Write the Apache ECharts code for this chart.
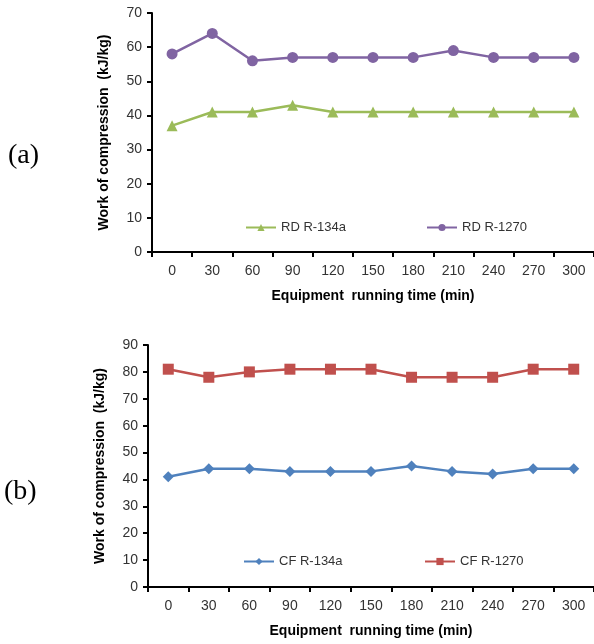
<!DOCTYPE html>
<html><head><meta charset="utf-8">
<script src="https://cdn.jsdelivr.net/npm/echarts@6/dist/echarts.min.js"></script>
<style>html,body{margin:0;padding:0;background:#fff}#c{width:594px;height:644px}</style>
</head><body><div id="c"></div>
<script>
var categories = ['0','30','60','90','120','150','180','210','240','270','300'];
var rdR134a = [37,41,41,43,41,41,41,41,41,41,41];
var rdR1270 = [58,64,56,57,57,57,57,59,57,57,57];
var cfR134a = [41,44,44,43,43,43,45,43,42,44,44];
var cfR1270 = [81,78,80,81,81,81,78,78,78,81,81];
var topTicks = [0,10,20,30,40,50,60,70];
var bottomTicks = [0,10,20,30,40,50,60,70,80,90];

var font = 'Liberation Sans, Arial, sans-serif';
function xAx(gi){
  return {type:'category', gridIndex:gi, data:categories, boundaryGap:true,
    name:'Equipment  running time (min)', nameLocation:'middle', nameGap:37,
    nameTextStyle:{fontFamily:font, fontWeight:'bold', fontSize:14, color:'#000'},
    axisLine:{lineStyle:{color:'#000', width:2}},
    axisTick:{show:true, alignWithLabel:false, length:5, lineStyle:{color:'#000', width:2}},
    axisLabel:{fontFamily:font, fontSize:14, color:'#333', margin:12}};
}
function yAx(gi, max, gap){
  return {type:'value', gridIndex:gi, min:0, max:max, interval:10,
    name:'Work of compression  (kJ/kg)', nameLocation:'middle', nameGap:gap,
    nameTextStyle:{fontFamily:font, fontWeight:'bold', fontSize:14, color:'#000'},
    splitLine:{show:false},
    axisLine:{show:true, lineStyle:{color:'#000', width:2}},
    axisTick:{show:true, length:5, lineStyle:{color:'#000', width:2}},
    axisLabel:{fontFamily:font, fontSize:14, color:'#333', margin:10}};
}
function ser(name, data, color, symbol, size, xi){
  return {name:name, type:'line', data:data, xAxisIndex:xi, yAxisIndex:xi,
    symbol:symbol, symbolSize:size, showSymbol:true,
    lineStyle:{color:color, width:2.5}, itemStyle:{color:color}};
}
function leg(name, left, top){
  return {data:[name], left:left, top:top, itemWidth:30, itemHeight:9, itemGap:4, padding:0,
     textStyle:{fontFamily:font, fontSize:13, color:'#333'}};
}
var chart = echarts.init(document.getElementById('c'));
chart.setOption({
  animation:false,
  grid:[{left:152, top:13, width:442, height:239},
        {left:148, top:345, width:446, height:242}],
  xAxis:[xAx(0), xAx(1)],
  yAxis:[yAx(0,70,41), yAx(1,90,41)],
  legend:[
    leg('RD R-134a', 245, 221),
    leg('RD R-1270', 426, 221),
    leg('CF R-134a', 243, 555),
    leg('CF R-1270', 424, 555)
  ],
  series:[
    ser('RD R-134a', rdR134a, '#9BBB59', 'triangle', 11, 0),
    ser('RD R-1270', rdR1270, '#8064A2', 'circle', 11, 0),
    ser('CF R-134a', cfR134a, '#4F81BD', 'diamond', 11, 1),
    ser('CF R-1270', cfR1270, '#C0504D', 'rect', 11, 1)
  ],
  graphic:[
    {type:'text', left:8, top:142, style:{text:'(a)', font:'28px "Liberation Serif", serif', fill:'#000'}},
    {type:'text', left:4, top:478, style:{text:'(b)', font:'28px "Liberation Serif", serif', fill:'#000'}}
  ]
});
</script></body></html>
